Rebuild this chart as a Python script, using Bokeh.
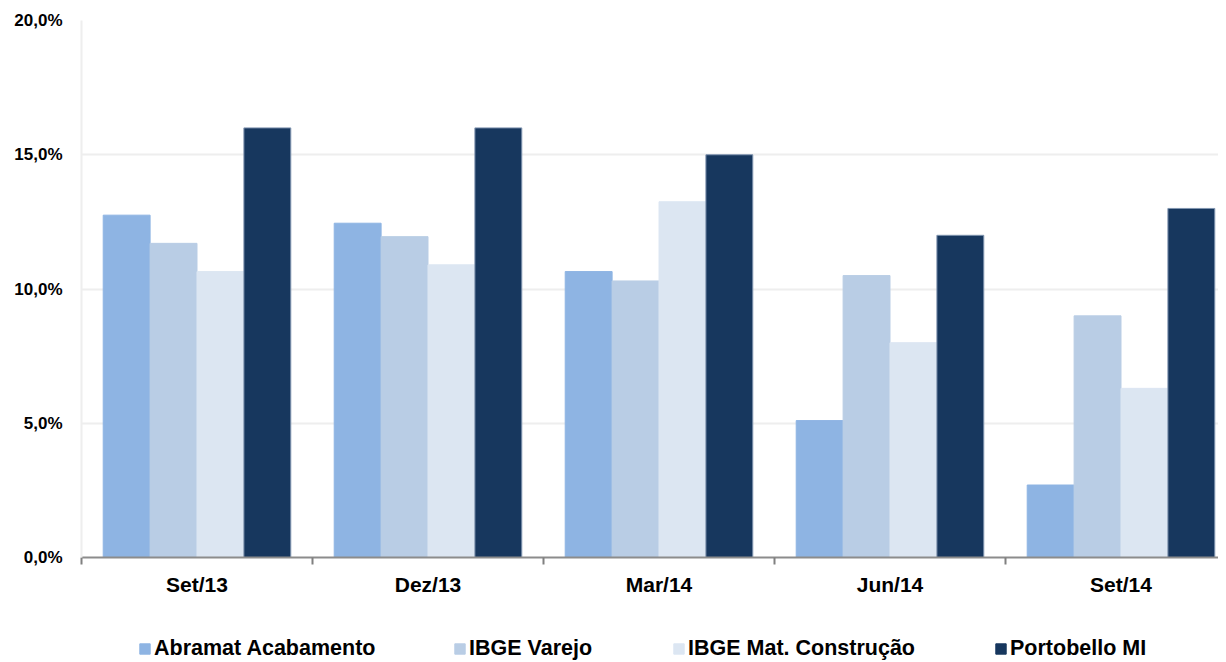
from bokeh.plotting import figure
from bokeh.layouts import column
from bokeh.models import FixedTicker, Legend, LegendItem, ColumnDataSource
from bokeh.embed import file_html
from bokeh.resources import INLINE

categories = ["Set/13", "Dez/13", "Mar/14", "Jun/14", "Set/14"]
series_names = ["Abramat Acabamento", "IBGE Varejo", "IBGE Mat. Construção", "Portobello MI"]
abramat = [12.75, 12.45, 10.65, 5.1, 2.7]
ibge_varejo = [11.7, 11.95, 10.3, 10.5, 9.0]
ibge_mat = [10.65, 10.9, 13.25, 8.0, 6.3]
portobello = [16.0, 16.0, 15.0, 12.0, 13.0]
y_ticks = [0, 5, 10, 15, 20]
y_tick_labels = ["0,0%", "5,0%", "10,0%", "15,0%", "20,0%"]
colors = ["#8EB4E3", "#B9CDE5", "#DCE6F2", "#17375E"]

W = 1218
LEFT = 81
p = figure(width=W, height=600, output_backend="svg", toolbar_location=None,
           x_range=(0, (W - LEFT) / 231), y_range=(0, 20),
           min_border_left=LEFT, min_border_right=0, min_border_top=20, min_border_bottom=43)
p.outline_line_color = None

bw = 0.203
series = [abramat, ibge_varejo, ibge_mat, portobello]
for k, vals in enumerate(series):
    xs = [i + 0.5 + (k - 1.5) * bw for i in range(len(categories))]
    src = ColumnDataSource(dict(x=xs, top=vals))
    p.vbar(x="x", top="top", width=bw, bottom=0, source=src, fill_color=colors[k],
           line_color=colors[k] if k < 3 else "#8095B0", line_width=1)

# x axis
centers = [i + 0.5 for i in range(len(categories))]
p.xaxis.ticker = FixedTicker(ticks=centers, minor_ticks=list(range(len(categories) + 1)))
p.xaxis.major_label_overrides = {c: lab for c, lab in zip(centers, categories)}
p.xaxis.major_tick_out = 0
p.xaxis.major_tick_in = 0
p.xaxis.minor_tick_out = 7
p.xaxis.minor_tick_in = 0
p.xaxis.minor_tick_line_color = "#808080"
p.xaxis.minor_tick_line_width = 2
p.xaxis.axis_line_color = "#8C8C8C"
p.xaxis.axis_line_width = 2
p.xaxis.major_label_standoff = 8
p.xaxis.major_label_text_font = "Liberation Sans"
p.xaxis.major_label_text_font_style = "bold"
p.xaxis.major_label_text_font_size = "21px"
p.xaxis.major_label_text_color = "#000000"
p.xgrid.grid_line_color = None

# y axis
p.yaxis.ticker = FixedTicker(ticks=y_ticks)
p.yaxis.major_label_overrides = {t: lab for t, lab in zip(y_ticks, y_tick_labels)}
p.yaxis.major_tick_out = 0
p.yaxis.major_tick_in = 0
p.yaxis.minor_tick_out = 0
p.yaxis.minor_tick_in = 0
p.yaxis.axis_line_color = "#EEEEEE"
p.yaxis.axis_line_width = 2
p.yaxis.major_label_standoff = 19
p.yaxis.major_label_text_font = "Liberation Sans"
p.yaxis.major_label_text_font_style = "bold"
p.yaxis.major_label_text_font_size = "17px"
p.yaxis.major_label_text_color = "#000000"
p.ygrid.grid_line_color = "#EEEEEE"
p.ygrid.grid_line_width = 2

# legend strip below the chart (its frame is aligned with the main frame)
lf = figure(width=W, height=62, output_backend="svg", toolbar_location=None,
            x_range=(0, 1), y_range=(0, 1), x_axis_location=None, y_axis_location=None,
            min_border_left=0, min_border_right=0, min_border_top=0, min_border_bottom=0)
lf.outline_line_color = None
lf.xgrid.grid_line_color = None
lf.ygrid.grid_line_color = None
legend_x = [138, 453, 672, 994]
for k in range(4):
    dummy = lf.vbar(x=[-10], top=[-10], bottom=[-11], width=0.1, fill_color=colors[k],
                    line_color=colors[k] if k < 3 else "#17375E")
    lg = Legend(items=[LegendItem(label=series_names[k], renderers=[dummy])],
                location=(legend_x[k] - LEFT, 1), orientation="horizontal",
                glyph_width=13, glyph_height=13, label_standoff=3, padding=0, margin=0,
                label_height=20, border_line_color=None, background_fill_alpha=0,
                label_text_font="Liberation Sans", label_text_font_style="bold",
                label_text_font_size="21.5px", label_text_color="#000000")
    lf.add_layout(lg, "center")

layout = column(p, lf, spacing=0)
open("out.html", "w").write(file_html(layout, INLINE))
